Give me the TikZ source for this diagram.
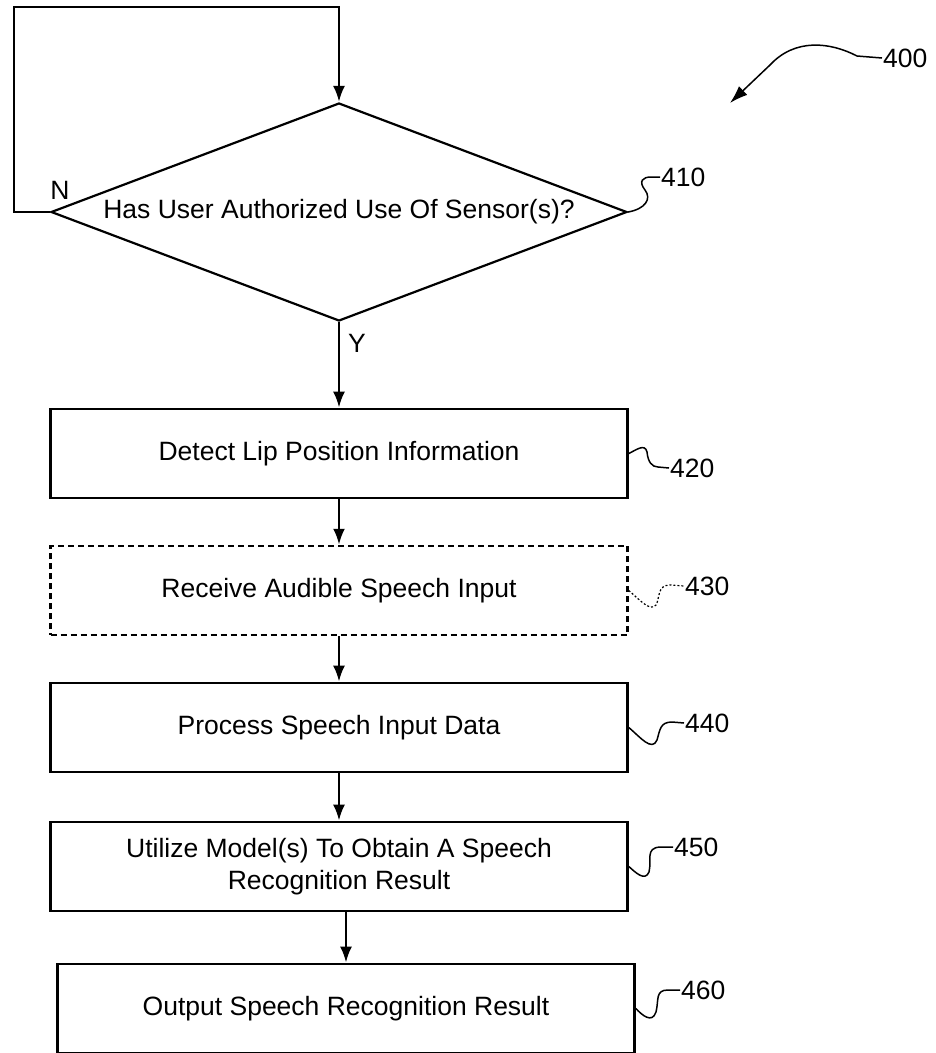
\documentclass[tikz,border=0pt]{standalone}
\usepackage{fontspec}
\setmainfont{Liberation Sans}
\usetikzlibrary{shapes.geometric,positioning,arrows.meta}

\tikzset{
  stepbox/.style={draw, line width=2.7pt, minimum width=577pt, minimum height=89pt, inner sep=0pt, align=center},
  optbox/.style={stepbox, line width=2.5pt, dash pattern=on 6pt off 4pt},
  decision/.style={draw, diamond, aspect=2.64, line width=2.2pt, minimum width=576pt, minimum height=218pt, inner sep=0pt},
  flow/.style={-{Latex[length=16pt,width=12pt]}, line width=2.6pt},
  leader/.style={line width=1.5pt},
  dotleader/.style={line width=1.2pt, dash pattern=on 2pt off 2pt},
  num/.style={anchor=west, inner sep=1pt},
}

\begin{document}
\begin{tikzpicture}[x=1pt, y=-1pt, node distance=137pt, on grid, font=\fontsize{26.5}{32}\selectfont]
\useasboundingbox (0,0) rectangle (936,1053);

\node [decision] (auth) at (339,212) {Has User Authorized Use Of Sensor(s)?};
\node [stepbox] (lip) [below=241.5pt of auth] {Detect Lip Position Information};
\node [optbox] (audio) [below=of lip] {Receive Audible Speech Input};
\node [stepbox] (proc) [below=of audio] {Process Speech Input Data};
\node [stepbox] (model) [below=139pt of proc] {Utilize Model(s) To Obtain A Speech\\Recognition Result};
\node [stepbox] (out) [below=142pt of model, xshift=7pt] {Output Speech Recognition Result};

\node (no) at (60,190) {N};
\node (yes) at (357,343) {Y};

% reference numerals
\node [num] (l400) at (882,58) {400};
\node [num] (l410) at (660,177) {410};
\node [num] (l420) at (669,468) {420};
\node [num] (l430) at (684,586) {430};
\node [num] (l440) at (684,723) {440};
\node [num] (l450) at (673,847) {450};
\node [num] (l460) at (680,990) {460};
\coordinate (tip400) at (730,103);

% flow
\draw [flow] (auth.west) -- ++(-36,0) |- ([yshift=95pt]auth.north) -- (auth.north);
\draw [flow] (auth.south) -- (auth.south |- lip.north);
\draw [flow] (lip.south) -- (lip.south |- audio.north);
\draw [flow] (audio.south) -- (audio.south |- proc.north);
\draw [flow] (proc.south) -- (proc.south |- model.north);
\draw [flow] (out.north |- model.south) -- (out.north);

% leaders
\draw [-{Latex[length=18pt,width=12pt]}, line width=1.5pt] (l400.west) -- (857,56)
  .. controls (830,42) and (795,38) .. (770,65) -- (tip400);
\draw [leader] (auth.east) .. controls (645,209) and (652,199) .. (645,190)
  .. controls (638,181) and (643,177) .. (651,177) -- (l410.west);
\draw [leader] (lip.east) .. controls (636,450) and (645,443) .. (647,452)
  .. controls (648,462) and (652,467) .. (658,467) -- (l420.west);
\draw [dotleader] (audio.east) .. controls (640,600) and (650,612) .. (656,605)
  .. controls (660,598) and (657,585) .. (670,585) -- (l430.west);
\draw [leader] (proc.east) .. controls (640,737) and (652,752) .. (657,740)
  .. controls (660,730) and (660,722) .. (672,722) -- (l440.west);
\draw [leader] (model.east) .. controls (635,872) and (645,882) .. (649,872)
  .. controls (652,860) and (645,848) .. (660,847) -- (l450.west);
\draw [leader] (out.east) .. controls (642,1015) and (652,1024) .. (656,1012)
  .. controls (659,1000) and (655,990) .. (668,990) -- (l460.west);
\end{tikzpicture}
\end{document}
